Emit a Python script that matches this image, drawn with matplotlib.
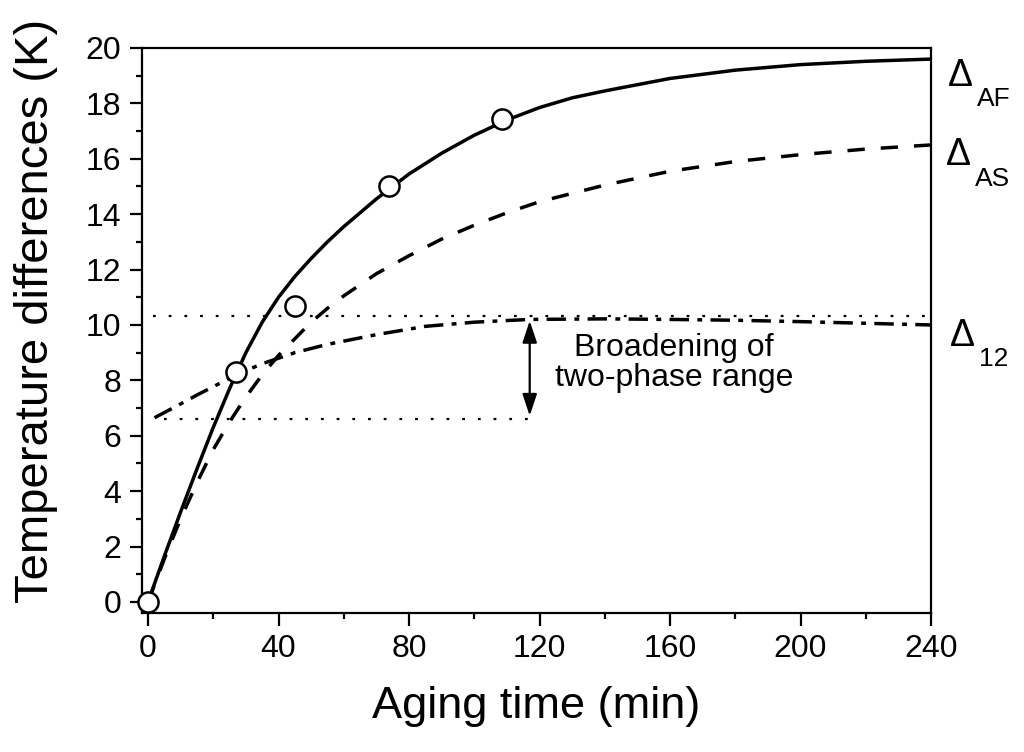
import matplotlib
matplotlib.use("Agg")
import matplotlib.pyplot as plt
from matplotlib.ticker import MultipleLocator

plt.rcParams['font.family'] = ['Liberation Sans', 'DejaVu Sans']
plt.rcParams['lines.scale_dashes'] = False

# ---- data ----
t_af = [0, 5, 10, 15, 20, 25, 30, 35, 40, 45, 50, 55, 60, 70, 80, 90, 100, 110, 120, 130, 140, 160, 180, 200, 220, 240]
d_af = [0, 1.65, 3.25, 4.8, 6.3, 7.7, 9.0, 10.1, 11.0, 11.75, 12.4, 13.0, 13.55, 14.55, 15.45, 16.2, 16.85, 17.4, 17.85, 18.2, 18.45, 18.9, 19.2, 19.4, 19.52, 19.6]

t_as = [0, 5, 10, 15, 20, 25, 30, 35, 40, 45, 50, 55, 60, 70, 80, 90, 100, 110, 120, 140, 160, 180, 200, 220, 240]
d_as = [0, 1.55, 3.0, 4.3, 5.5, 6.5, 7.4, 8.2, 8.9, 9.5, 10.1, 10.6, 11.05, 11.85, 12.5, 13.1, 13.6, 14.05, 14.45, 15.05, 15.55, 15.9, 16.15, 16.35, 16.5]

t_12 = [2, 10, 15, 20, 27, 35, 45, 55, 70, 85, 100, 117, 140, 160, 180, 200, 220, 240]
d_12 = [6.65, 7.15, 7.47, 7.77, 8.2, 8.6, 9.0, 9.3, 9.65, 9.95, 10.1, 10.2, 10.22, 10.2, 10.17, 10.12, 10.06, 10.0]

t_pts = [0, 27, 45, 74, 108.5]
d_pts = [0, 8.3, 10.7, 15.0, 17.45]

upper_level = 10.33
lower_level = 6.6
upper_span = [1.5, 240]
lower_span = [5, 120]
arrow_t = 117
arrow_top = 10.15
arrow_bot = 6.72

xticks = [0, 40, 80, 120, 160, 200, 240]
yticks = [0, 2, 4, 6, 8, 10, 12, 14, 16, 18, 20]

fig = plt.figure(figsize=(10.24, 7.52), dpi=100)
ax = fig.add_axes([142/1024, 1-613/752, (931-142)/1024, (613-48)/752])

ax.plot(t_af, d_af, color='black', lw=2.5, solid_capstyle='round', solid_joinstyle='round', zorder=3)
ax.plot(t_as, d_as, color='black', lw=2.5, dashes=(12.5, 11.5), zorder=3)
ax.plot(t_12, d_12, color='black', lw=2.5, dashes=(14, 6, 3.5, 6), zorder=3)
ax.plot(upper_span, [upper_level, upper_level], color='black', lw=1.6, dashes=(2, 9.3), zorder=2)
ax.plot(lower_span, [lower_level, lower_level], color='black', lw=1.6, dashes=(2, 9.3), zorder=2)
ax.plot(t_pts, d_pts, 'o', ms=14.5, mfc='white', mec='black', mew=1.8, zorder=5, clip_on=False)

ax.annotate('', xy=(arrow_t, arrow_top), xytext=(arrow_t, arrow_bot),
            arrowprops=dict(arrowstyle='<|-|>,head_length=0.6,head_width=0.2', color='black', lw=1.6,
                            mutation_scale=22, shrinkA=0, shrinkB=0))

ax.text(161.2, 8.63, 'Broadening of\ntwo-phase range', ha='center', va='center',
        fontsize=23, linespacing=1.0)

ax.set_xlim(-1.84, 240)
ax.set_ylim(-0.4, 20)
ax.set_xticks(xticks)
ax.set_yticks(yticks)
ax.xaxis.set_minor_locator(MultipleLocator(20))
ax.yaxis.set_minor_locator(MultipleLocator(1))
ax.tick_params(which='major', direction='out', length=9, width=1.6, labelsize=23, pad=6)
ax.tick_params(which='minor', direction='out', length=4.5, width=1.6)
for s in ax.spines.values():
    s.set_linewidth(1.6)

ax.set_xlabel('Aging time (min)', fontsize=32.5, labelpad=16)
ax.set_ylabel('Temperature differences (K)', fontsize=34)
ax.yaxis.set_label_coords(-0.107, 0.535)

# curve labels
def lab(xl, yb, sub, xs, ys):
    fig.text(xl/1024, 1-yb/752, '\u0394', fontsize=27, ha='left', va='baseline')
    fig.text(xs/1024, 1-ys/752, sub, fontsize=19, ha='left', va='baseline')

lab(948, 86, 'AF', 977, 106)
lab(946, 165, 'AS', 975, 186)
lab(950, 346, '12', 979, 366)

fig.savefig('out.png', dpi=100)
